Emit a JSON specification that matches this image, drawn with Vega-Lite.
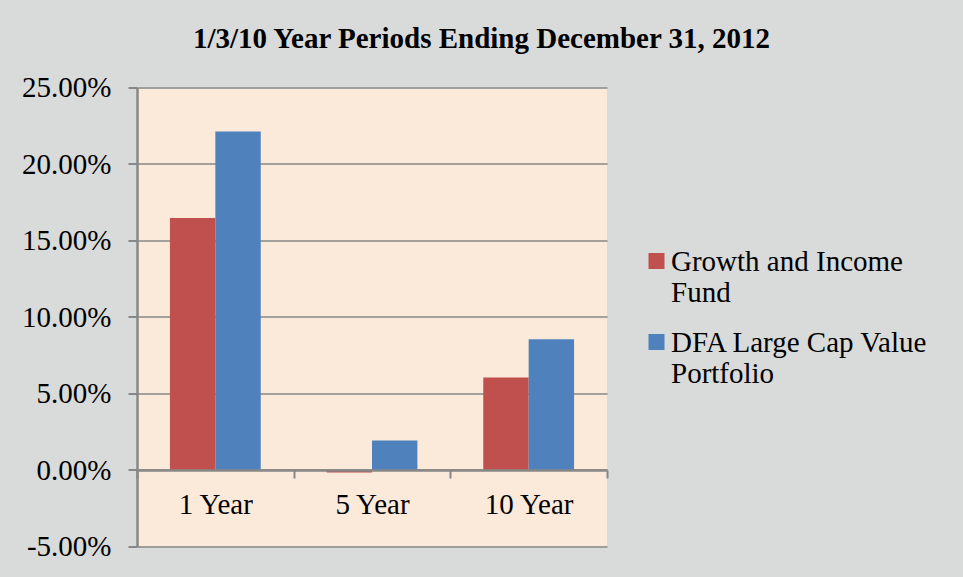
{
  "$schema": "https://vega.github.io/schema/vega-lite/v6.json",
  "width": 470,
  "height": 459,
  "autosize": "none",
  "padding": {"left": 137, "top": 87.5, "right": 356, "bottom": 30.5},
  "background": "#d9dada",
  "title": {
    "text": "1/3/10 Year Periods Ending December 31, 2012",
    "font": "Liberation Serif",
    "fontSize": 29,
    "fontWeight": "bold",
    "color": "#000000",
    "anchor": "middle",
    "dx": 109.5,
    "baseline": "alphabetic",
    "offset": -3
  },
  "config": {
    "view": {"fill": "#fbe9da", "stroke": null},
    "font": "Liberation Serif"
  },
  "data": {
    "values": [
      {"period": "1 Year", "series": "Growth and Income Fund", "value": 0.1647},
      {"period": "1 Year", "series": "DFA Large Cap Value Portfolio", "value": 0.2213},
      {"period": "5 Year", "series": "Growth and Income Fund", "value": -0.0017},
      {"period": "5 Year", "series": "DFA Large Cap Value Portfolio", "value": 0.0193},
      {"period": "10 Year", "series": "Growth and Income Fund", "value": 0.0605},
      {"period": "10 Year", "series": "DFA Large Cap Value Portfolio", "value": 0.0854}
    ]
  },
  "mark": {"type": "bar"},
  "encoding": {
    "x": {
      "field": "period",
      "type": "nominal",
      "sort": ["1 Year", "5 Year", "10 Year"],
      "scale": {"paddingInner": 0, "paddingOuter": 0},
      "axis": {
        "title": null,
        "offset": -76.5,
        "labelAngle": 0,
        "tickBand": "extent",
        "tickSize": 8,
        "tickWidth": 2,
        "tickColor": "#878787",
        "domainColor": "#878787",
        "domainWidth": 2.5,
        "labelPadding": 12,
        "labelFont": "Liberation Serif",
        "labelFontSize": 29,
        "labelColor": "#000000",
        "grid": false,
        "zindex": 1
      }
    },
    "xOffset": {
      "field": "series",
      "type": "nominal",
      "sort": ["Growth and Income Fund", "DFA Large Cap Value Portfolio"],
      "scale": {"paddingInner": 0, "paddingOuter": 0.725}
    },
    "y": {
      "field": "value",
      "type": "quantitative",
      "scale": {"domain": [-0.05, 0.25], "nice": false, "zero": false},
      "axis": {
        "title": null,
        "labelExpr": "(datum.value < 0 ? '-' : '') + format(abs(datum.value), '.2%')",
        "values": [-0.05, 0, 0.05, 0.1, 0.15, 0.2, 0.25],
        "tickSize": 9,
        "tickWidth": 2,
        "tickColor": "#878787",
        "domainColor": "#878787",
        "domainWidth": 2.5,
        "labelPadding": 17,
        "labelFont": "Liberation Serif",
        "labelFontSize": 29,
        "labelColor": "#000000",
        "grid": true,
        "gridColor": "#878787",
        "gridWidth": 1.5
      }
    },
    "color": {
      "field": "series",
      "type": "nominal",
      "sort": ["Growth and Income Fund", "DFA Large Cap Value Portfolio"],
      "scale": {"range": ["#c0504d", "#4f81bd"]},
      "legend": {
        "title": null,
        "orient": "none",
        "legendX": 505,
        "legendY": 159,
        "padding": 0,
        "symbolType": "square",
        "symbolSize": 256,
        "symbolStrokeWidth": 0,
        "symbolOpacity": 1,
        "labelOffset": 0,
        "labelFont": "Liberation Serif",
        "labelFontSize": 29,
        "labelColor": "#000000",
        "labelLimit": 400,
        "labelLineHeight": 32,
        "labelBaseline": "alphabetic",
        "rowPadding": 19,
        "labelExpr": "datum.label == 'Growth and Income Fund' ? ['Growth and Income', 'Fund'] : ['DFA Large Cap Value', 'Portfolio']",
        "encode": {"labels": {"update": {"dy": {"value": 10}}}}
      }
    }
  }
}
